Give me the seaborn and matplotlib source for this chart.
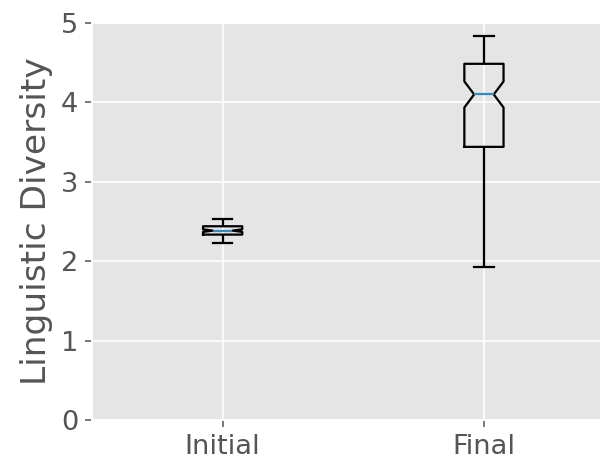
import numpy as np
import pandas as pd
import matplotlib
matplotlib.use("Agg")
import matplotlib.pyplot as plt
import seaborn as sns

# Five-number summaries of linguistic diversity per stage
stages = ["Initial", "Final"]
whisker_low = [2.23, 1.925]
lower_quartile = [2.335, 3.44]
medians = [2.385, 4.10]
upper_quartile = [2.44, 4.486]
whisker_high = [2.535, 4.834]
n_runs = 100  # simulation runs per stage


def sample_from_summary(lo, q1, med, q3, hi, n):
    """Sample of size n whose quartiles and extremes equal the summary."""
    k = (n - 4) // 2
    return [lo] + [q1] * k + [med] * 2 + [q3] * k + [hi]


rows = []
for i, stage in enumerate(stages):
    vals = sample_from_summary(whisker_low[i], lower_quartile[i], medians[i],
                               upper_quartile[i], whisker_high[i], n_runs)
    rows += [(stage, v) for v in vals]
df = pd.DataFrame(rows, columns=["stage", "diversity"])

plt.style.use("ggplot")
plt.rcParams["font.size"] = 14

dpi = 140
fig = plt.figure(figsize=(600 / dpi, 463 / dpi), dpi=dpi)
ax = fig.add_axes([92 / 600, 43 / 463, 522.6 / 600, 397 / 463])

sns.boxplot(
    data=df, x="stage", y="diversity", order=stages, ax=ax,
    fill=False, color="black", linewidth=1.15, width=0.15,
    whis=1.5, shownotches=True,
    medianprops={"color": "#348ABD", "linewidth": 1.15},
)

ax.set_ylim(0, 5)
ax.set_yticks([0, 1, 2, 3, 4, 5])
ax.set_xlim(-0.5, 1.5)
ax.xaxis.grid(True)
ax.yaxis.grid(True)
ax.set_axisbelow(True)
ax.set_xlabel("")
ax.set_ylabel("Linguistic Diversity", fontsize=17.7)

fig.savefig("out.png", dpi=dpi)
